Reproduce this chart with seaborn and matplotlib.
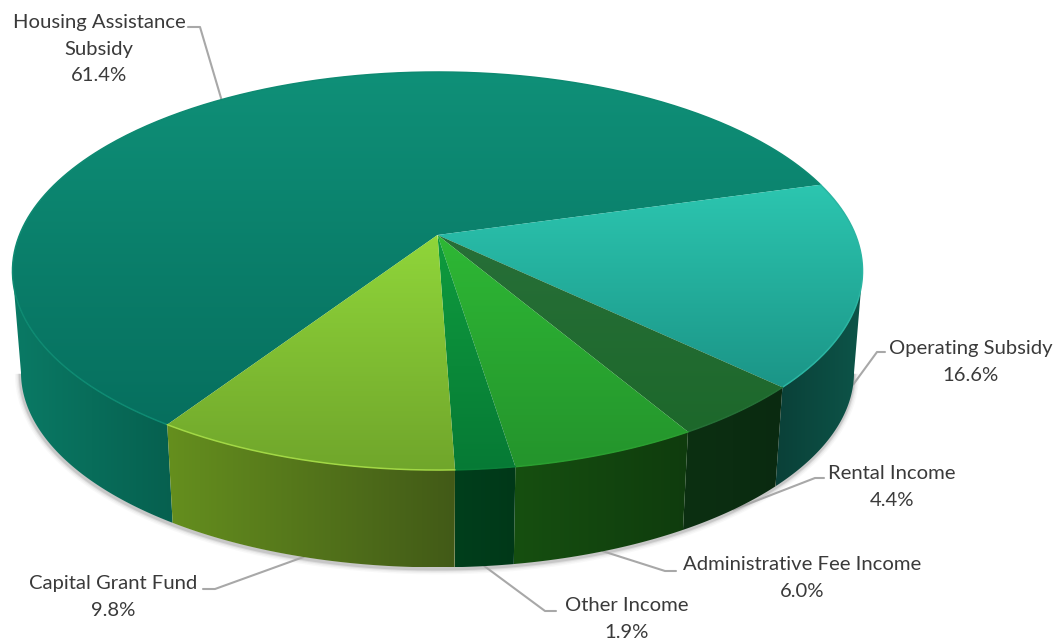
import numpy as np
import matplotlib
matplotlib.use("Agg")
import matplotlib.pyplot as plt
from matplotlib.patches import Polygon
import seaborn as sns

# Funding sources; the largest slice ends where the clockwise run of the others begins
sources = ["Housing Assistance\nSubsidy", "Operating Subsidy", "Rental Income",
           "Administrative Fee Income", "Other Income", "Capital Grant Fund"]
percent = [61.4, 16.6, 4.4, 6.0, 1.9, 9.8]

# Vertical gradient of each top face (far edge, near edge)
top_colors = [("#0f9078", "#066f5e"), ("#2cc6b0", "#1b9587"), ("#276f38", "#1d682b"),
              ("#2eb835", "#24942c"), ("#0f9c3e", "#067a35"), ("#90d63a", "#70a62b")]
# Horizontal gradient of each rim segment (left end, right end)
wall_colors = [("#0a7a65", "#06604f"), ("#0a4038", "#0d5549"), ("#0c3012", "#0a2a10"),
               ("#164f10", "#0f3c0d"), ("#003f1c", "#003818"), ("#658f1e", "#425a17")]
rim_colors = ["#0e8a72", "#2ab5a2", "#246f35", "#2a9f30", "#0a8038", "#a2d845"]

sns.set_theme(style="white", font="Lato")
plt.rcParams["font.family"] = ["Lato", "DejaVu Sans"]

fig = plt.figure(figsize=(10.64, 6.41), dpi=100, facecolor="white")
ax = fig.add_axes([0, 0, 1, 1])
ax.set_xlim(0, 1064)
ax.set_ylim(641, 0)
ax.axis("off")

# Perspective view of the disc: apex, radii, tilt, and how the lower rim shifts
CX, CY = 437.5, 235.0
RX, RY, TILT = 418.0, 192.5, 0.181
LOWER_CY, LOWER_SCALE = 337.0, 0.98
BOUNDARY_DEG = 15.9
# Angles where the outline of the disc turns from the top face to the rim
TANGENT_DEG = np.degrees(np.arcsin(TILT))
FRONT_LO, FRONT_HI = -180.0 + TANGENT_DEG, -TANGENT_DEG


def upper_rim(deg):
    t = np.radians(deg)
    d = 1 + TILT * np.sin(t)
    return CX + RX * np.cos(t) / d, CY - RY * np.sin(t) / d


def lower_rim(deg):
    x, y = upper_rim(deg)
    return CX + LOWER_SCALE * (x - CX), LOWER_CY + LOWER_SCALE * (y - CY)


def gradient_fill(poly_xy, colors, vertical, zorder):
    """Fill a polygon with a two-colour seaborn gradient."""
    cmap = sns.blend_palette(colors, as_cmap=True)
    ramp = np.linspace(0, 1, 256)
    ramp = ramp[:, None] if vertical else ramp[None, :]
    x0, x1 = poly_xy[:, 0].min(), poly_xy[:, 0].max()
    y0, y1 = poly_xy[:, 1].min(), poly_xy[:, 1].max()
    img = ax.imshow(ramp, cmap=cmap, extent=(x0, x1, y1, y0), origin="upper",
                    aspect="auto", interpolation="bilinear", zorder=zorder)
    patch = Polygon(poly_xy, closed=True, transform=ax.transData, fc="none", ec="none")
    ax.add_patch(patch)
    img.set_clip_path(patch)


shares = np.array(percent) / np.sum(percent)
sweeps = shares * 360.0
ends = BOUNDARY_DEG + sweeps[0] - np.cumsum(sweeps)
starts = ends + sweeps

# Soft contact shadow under the visible part of the rim
shadow_deg = np.linspace(FRONT_LO, FRONT_HI, 400)
sx, sy = lower_rim(shadow_deg)
for width, alpha in [(8, 0.04), (6, 0.06), (4, 0.10), (2.5, 0.16)]:
    ax.plot(sx - 0.5, sy + 1.5, color="#555555", lw=width, alpha=alpha,
            solid_capstyle="butt", zorder=1)

# Rim segments, limited to the side facing the viewer
for i, (a0, a1) in enumerate(zip(starts, ends)):
    for lo, hi in [(a1, a0), (a1 + 360, a0 + 360), (a1 - 360, a0 - 360)]:
        lo2, hi2 = max(lo, FRONT_LO), min(hi, FRONT_HI)
        if hi2 <= lo2:
            continue
        deg = np.linspace(hi2, lo2, 160)
        ux, uy = upper_rim(deg)
        bx, by = lower_rim(deg)
        poly = np.column_stack([np.r_[ux, bx[::-1]], np.r_[uy, by[::-1]]])
        gradient_fill(poly, wall_colors[i], vertical=False, zorder=2)

# Top faces
for i, (a0, a1) in enumerate(zip(starts, ends)):
    deg = np.linspace(a0, a1, 300)
    ux, uy = upper_rim(deg)
    poly = np.column_stack([np.r_[CX, ux], np.r_[CY, uy]])
    gradient_fill(poly, top_colors[i], vertical=True, zorder=3)
    ax.plot(ux, uy, color=rim_colors[i], lw=1.1, zorder=4)

# Leader lines run out from the middle of each slice
elbows = [((200, 27), (188, 27)), ((877, 352), (885, 352)), ((815, 478), (824, 478)),
          ((665, 571), (676, 571)), ((545, 611), (556, 611)), ((215, 589), (203, 589))]
label_pos = [(99, 49), (971, 362), (892, 487), (802, 578), (627, 619), (113, 597)]
mids = (starts + ends) / 2
for i, mid in enumerate(mids):
    anchor = upper_rim(mid) if i == 0 else lower_rim(mid)
    xs = [anchor[0], elbows[i][0][0], elbows[i][1][0]]
    ys = [anchor[1], elbows[i][0][1], elbows[i][1][1]]
    ax.plot(xs, ys, color="#a8a8a8", lw=1.5, zorder=1.5, solid_joinstyle="round")
    ax.text(label_pos[i][0], label_pos[i][1], f"{sources[i]}\n{percent[i]:.1f}%",
            ha="center", va="center", ma="center", fontsize=14.6,
            color="#3a3a3a", linespacing=1.65, zorder=6)

ax.set_xlim(0, 1064)
ax.set_ylim(641, 0)
fig.savefig("out.png", dpi=100, facecolor="white")
